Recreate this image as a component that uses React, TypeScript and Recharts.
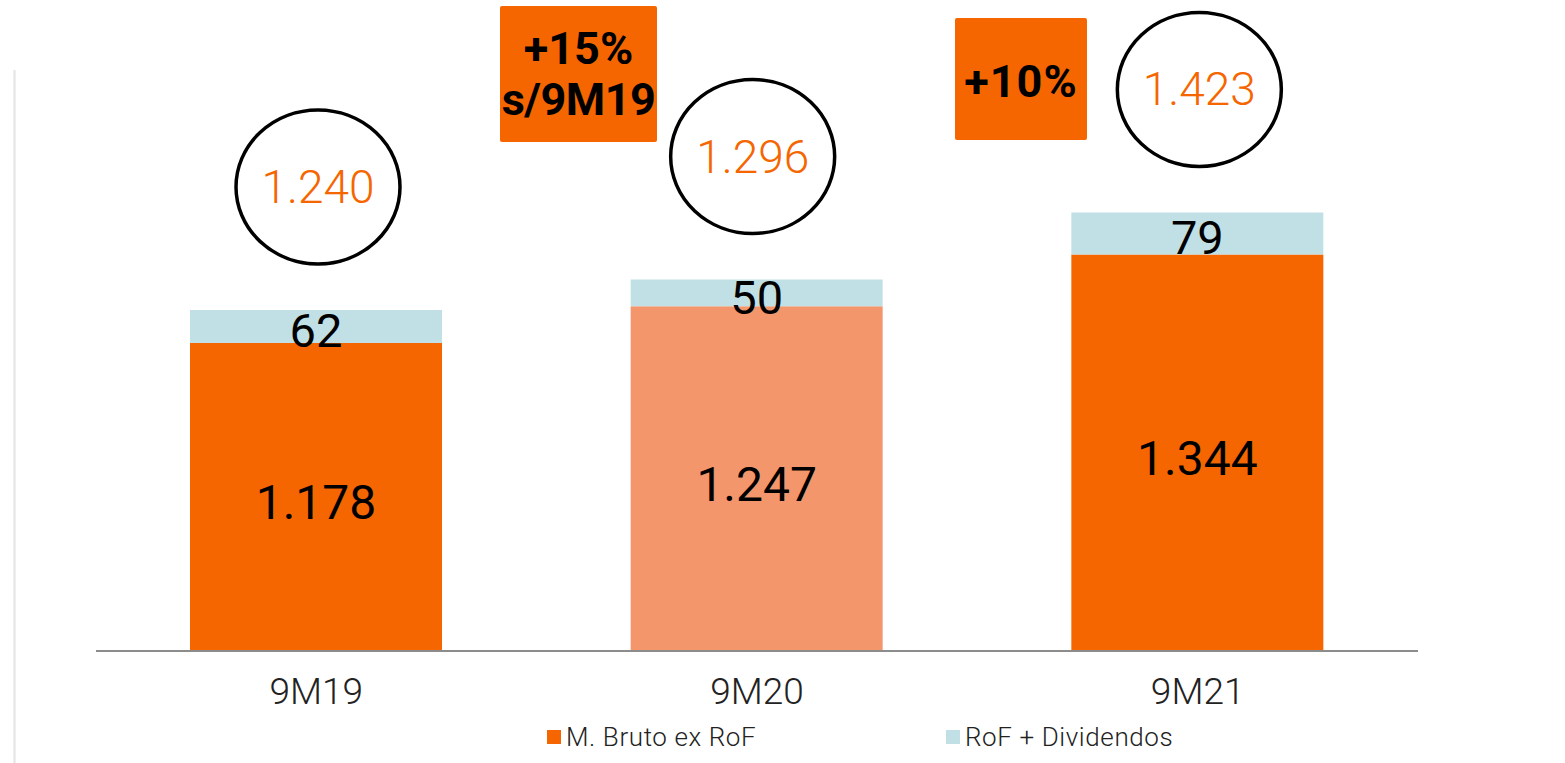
import React from 'react';
import { BarChart, Bar, XAxis, YAxis, Cell, LabelList } from 'recharts';

const categories = ['9M19', '9M20', '9M21'];
const brutoExRof = [1178, 1247, 1344];
const rofDividendos = [62, 50, 79];
const totals = [1240, 1296, 1423];
const brutoColors = ['#F56600', '#F4966B', '#F56600'];

const ORANGE = '#F56600';
const BLUE = '#C1E0E5';
const FONT = 'Roboto, "Noto Sans", sans-serif';

const data = categories.map((name, i) => ({
  name,
  bruto: brutoExRof[i],
  rof: rofDividendos[i],
  total: totals[i],
}));

// 1178 -> "1.178"
const fmt = (v: number) => v.toLocaleString('de-DE');

const TotalBubble = (props: any) => {
  const { x, y, width, index } = props;
  const cx = Number(x) + Number(width) / 2 + (index === 1 ? -4 : 2);
  const cy = Number(y) - 123;
  return (
    <g>
      <ellipse cx={cx} cy={cy} rx={82} ry={77} fill="#fff" stroke="#000" strokeWidth={3.5} />
      <text
        x={cx}
        y={cy + 16}
        textAnchor="middle"
        fontSize={46}
        fontFamily={FONT}
        fontWeight={300}
        fill={ORANGE}
      >
        {fmt(totals[index])}
      </text>
    </g>
  );
};

const CategoryTick = (props: any) => {
  const { x, y, payload } = props;
  return (
    <text x={x} y={y + 45} textAnchor="middle" fontSize={37} fontFamily={FONT} fontWeight={300} fill="#222">
      {payload.value}
    </text>
  );
};

const boxStyle: React.CSSProperties = {
  position: 'absolute',
  background: ORANGE,
  borderRadius: 2,
  display: 'flex',
  flexDirection: 'column',
  alignItems: 'center',
  justifyContent: 'center',
  fontFamily: FONT,
  fontWeight: 700,
  fontSize: 45,
  lineHeight: '51px',
  color: '#000',
};

const legendItem = (color: string, label: string, left: number) => (
  <div
    style={{
      position: 'absolute',
      left,
      top: 722,
      display: 'flex',
      alignItems: 'center',
      fontFamily: FONT,
      fontWeight: 300,
      fontSize: 26,
      letterSpacing: 0.6,
      color: '#222',
    }}
  >
    <span style={{ width: 14, height: 14, background: color, marginRight: 5, display: 'inline-block' }} />
    {label}
  </div>
);

export default function App() {
  return (
    <div style={{ position: 'absolute', left: 0, top: 0, width: 1565, height: 763, background: '#fff', overflow: 'hidden' }}>
      <div
        style={{
          position: 'absolute',
          left: 13,
          top: 70,
          width: 3,
          height: 700,
          background: 'linear-gradient(to right, #f4f4f4, #e6e6e6, #f4f4f4)',
        }}
      />
      <BarChart
        width={1565}
        height={763}
        data={data}
        margin={{ top: 20, right: 147, bottom: 52, left: 96 }}
        barSize={252}
      >
        <XAxis
          dataKey="name"
          height={60}
          axisLine={{ stroke: '#8C8C8C', strokeWidth: 2 }}
          tickLine={false}
          tick={<CategoryTick />}
        />
        <YAxis hide domain={[600, 1784]} allowDataOverflow />
        <Bar dataKey="bruto" stackId="a" isAnimationActive={false}>
          {data.map((d, i) => (
            <Cell key={d.name} fill={brutoColors[i]} />
          ))}
          <LabelList
            dataKey="bruto"
            position="center"
            formatter={(v: any) => fmt(Number(v))}
            fill="#000"
            fontSize={48}
            fontFamily={FONT}
            fontWeight={400}
            dy={5}
          />
        </Bar>
        <Bar dataKey="rof" stackId="a" fill={BLUE} isAnimationActive={false}>
          <LabelList
            dataKey="rof"
            position="center"
            fill="#000"
            fontSize={47}
            fontFamily={FONT}
            fontWeight={400}
            dy={4}
          />
          <LabelList dataKey="total" content={<TotalBubble />} />
        </Bar>
      </BarChart>
      <div style={{ ...boxStyle, left: 500, top: 6, width: 157, height: 136 }}>
        <div>+15%</div>
        <div style={{ letterSpacing: -0.5 }}>s/9M19</div>
      </div>
      <div style={{ ...boxStyle, left: 955, top: 18, width: 132, height: 122, paddingTop: 4, boxSizing: 'border-box' }}>
        <div style={{ letterSpacing: 1 }}>+10%</div>
      </div>
      {legendItem(ORANGE, 'M. Bruto ex RoF', 547)}
      {legendItem(BLUE, 'RoF + Dividendos', 946)}
    </div>
  );
}
